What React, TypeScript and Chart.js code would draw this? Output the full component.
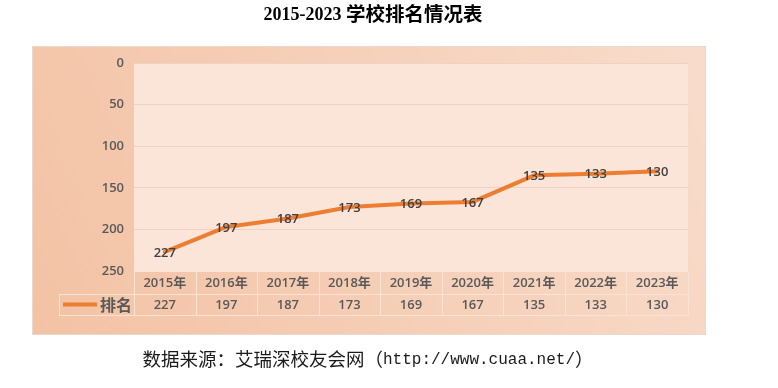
import React, { useEffect, useRef } from "react";
import { Chart, registerables } from "chart.js";

Chart.register(...registerables);

const years: string[] = ["2015年", "2016年", "2017年", "2018年", "2019年", "2020年", "2021年", "2022年", "2023年"];
const ranks: number[] = [227, 197, 187, 173, 169, 167, 135, 133, 130];
const seriesName = "排名";
const yMin = 0;
const yMax = 250;
const yStep = 50;
const titleNum = "2015-2023 ";
const titleCjk = "学校排名情况表";
const sourceHead = "数据来源：艾瑞深校友会网（";
const sourceUrl = "http://www.cuaa.net/";
const sourceTail = "）";

const ORANGE = "#ED7D31";
const TEXT = "#595959";
const SANS = '"Open Sans", "Noto Sans CJK SC", sans-serif';

const decorPlugin = {
  id: "decor",
  beforeDraw(chart: any) {
    const { ctx, chartArea: a } = chart;
    const L = a.left - 102, T = a.top - 17, R = a.right + 18, B = a.bottom + 64;
    ctx.save();
    const g = ctx.createLinearGradient(R, T, L, B);
    g.addColorStop(0, "#F8DCCB");
    g.addColorStop(1, "#F3C2A4");
    ctx.fillStyle = g;
    ctx.fillRect(L, T, R - L, B - T);
    ctx.strokeStyle = "#E9D8CE";
    ctx.lineWidth = 1;
    ctx.strokeRect(L + 0.5, T + 0.5, R - L - 1, B - T - 1);
    ctx.fillStyle = "#FBE5D8";
    ctx.fillRect(a.left, a.top, a.right - a.left, a.bottom - a.top);
    ctx.restore();
  },
  afterDatasetsDraw(chart: any) {
    const { ctx } = chart;
    const meta = chart.getDatasetMeta(0);
    ctx.save();
    ctx.font = "600 13px " + SANS;
    ctx.fillStyle = "#404040";
    ctx.textAlign = "center";
    ctx.textBaseline = "middle";
    meta.data.forEach((p: any, i: number) => {
      ctx.fillText(String(ranks[i]), p.x, p.y + 1);
    });
    ctx.restore();
  },
  afterDraw(chart: any) {
    const { ctx, chartArea: a } = chart;
    const xs = chart.scales.x;
    const n = years.length;
    const cw = (a.right - a.left) / n;
    const r1 = a.bottom, r2 = a.bottom + 23, r3 = a.bottom + 44;
    const legL = a.left - 75;
    ctx.save();
    ctx.strokeStyle = "#FAE2D4";
    ctx.lineWidth = 1;
    ctx.beginPath();
    ctx.moveTo(a.left, r1 + 0.5); ctx.lineTo(a.right, r1 + 0.5);
    ctx.moveTo(legL, r2 + 0.5); ctx.lineTo(a.right, r2 + 0.5);
    ctx.moveTo(legL, r3 + 0.5); ctx.lineTo(a.right, r3 + 0.5);
    ctx.moveTo(legL + 0.5, r2); ctx.lineTo(legL + 0.5, r3);
    for (let k = 0; k <= n; k++) {
      const x = Math.round(a.left + k * cw) + 0.5;
      ctx.moveTo(x, r1); ctx.lineTo(x, r3);
    }
    ctx.stroke();

    ctx.font = "600 13px " + SANS;
    ctx.fillStyle = TEXT;
    ctx.textAlign = "center";
    ctx.textBaseline = "middle";
    years.forEach((y, i) => {
      const cx = xs.getPixelForValue(i);
      ctx.fillText(y, cx, (r1 + r2) / 2 + 1);
      ctx.fillText(String(ranks[i]), cx, (r2 + r3) / 2 + 1);
    });

    // legend key
    ctx.strokeStyle = ORANGE;
    ctx.lineWidth = 4;
    ctx.beginPath();
    ctx.moveTo(legL + 4, (r2 + r3) / 2);
    ctx.lineTo(legL + 38, (r2 + r3) / 2);
    ctx.stroke();
    ctx.font = 'bold 16px "Noto Sans CJK SC", sans-serif';
    ctx.fillStyle = TEXT;
    ctx.textAlign = "right";
    ctx.fillText(seriesName, a.left - 2, (r2 + r3) / 2);

    // title
    const tcx = 373;
    const fNum = 'bold 18px "Liberation Serif", serif';
    const fCjk = 'bold 19.5px "Noto Sans CJK SC", sans-serif';
    ctx.font = fNum;
    const w1 = ctx.measureText(titleNum).width;
    ctx.font = fCjk;
    const w2 = ctx.measureText(titleCjk).width;
    const x0 = tcx - (w1 + w2) / 2;
    ctx.textAlign = "left";
    ctx.fillStyle = "#000000";
    ctx.font = fNum;
    ctx.fillText(titleNum, x0, 15);
    ctx.font = fCjk;
    ctx.fillText(titleCjk, x0 + w1, 14);

    // source caption
    const fc = '18.5px "Noto Sans CJK SC", sans-serif';
    const fu = '16px "Liberation Mono", monospace';
    ctx.font = fc;
    const s1 = ctx.measureText(sourceHead).width;
    const s3 = ctx.measureText(sourceTail).width;
    ctx.font = fu;
    const s2 = ctx.measureText(sourceUrl).width;
    const sx = 368 - (s1 + s2 + s3) / 2;
    const sy = 359;
    ctx.fillStyle = "#1a1a1a";
    ctx.font = fc;
    ctx.fillText(sourceHead, sx, sy);
    ctx.font = fu;
    ctx.fillText(sourceUrl, sx + s1, sy + 1);
    ctx.font = fc;
    ctx.fillText(sourceTail, sx + s1 + s2, sy);
    ctx.restore();
  },
};

export default function App() {
  const ref = useRef<HTMLCanvasElement | null>(null);
  useEffect(() => {
    if (!ref.current) return;
    const chart = new Chart(ref.current, {
      type: "line",
      data: {
        labels: years,
        datasets: [
          {
            label: seriesName,
            data: ranks,
            borderColor: ORANGE,
            backgroundColor: ORANGE,
            borderWidth: 4,
            pointRadius: 0,
            tension: 0,
            borderCapStyle: "round",
            borderJoinStyle: "round",
          },
        ],
      },
      options: {
        responsive: false,
        animation: false,
        devicePixelRatio: 1,
        layout: { padding: { top: 63, bottom: 117, left: 0, right: 58 } },
        plugins: {
          legend: { display: false },
          title: { display: false },
          tooltip: { enabled: false },
        },
        scales: {
          x: {
            type: "category",
            offset: true,
            display: false,
          },
          y: {
            reverse: true,
            min: yMin,
            max: yMax,
            ticks: {
              stepSize: yStep,
              color: TEXT,
              font: { size: 13, family: SANS, weight: "600" },
              padding: 10,
            },
            grid: {
              drawTicks: false,
              color: (c: any) => (c.index === 0 || c.tick?.value === yMax ? "rgba(0,0,0,0)" : "#EED3C4"),
            },
            border: { display: false },
            afterFit: (s: any) => {
              s.width = 134;
            },
          },
        },
      },
      plugins: [decorPlugin],
    });
    return () => chart.destroy();
  }, []);
  return (
    <div style={{ position: "absolute", left: 0, top: 0, width: 746, height: 388 }}>
      <canvas ref={ref} width={746} height={388} style={{ display: "block" }} />
    </div>
  );
}
